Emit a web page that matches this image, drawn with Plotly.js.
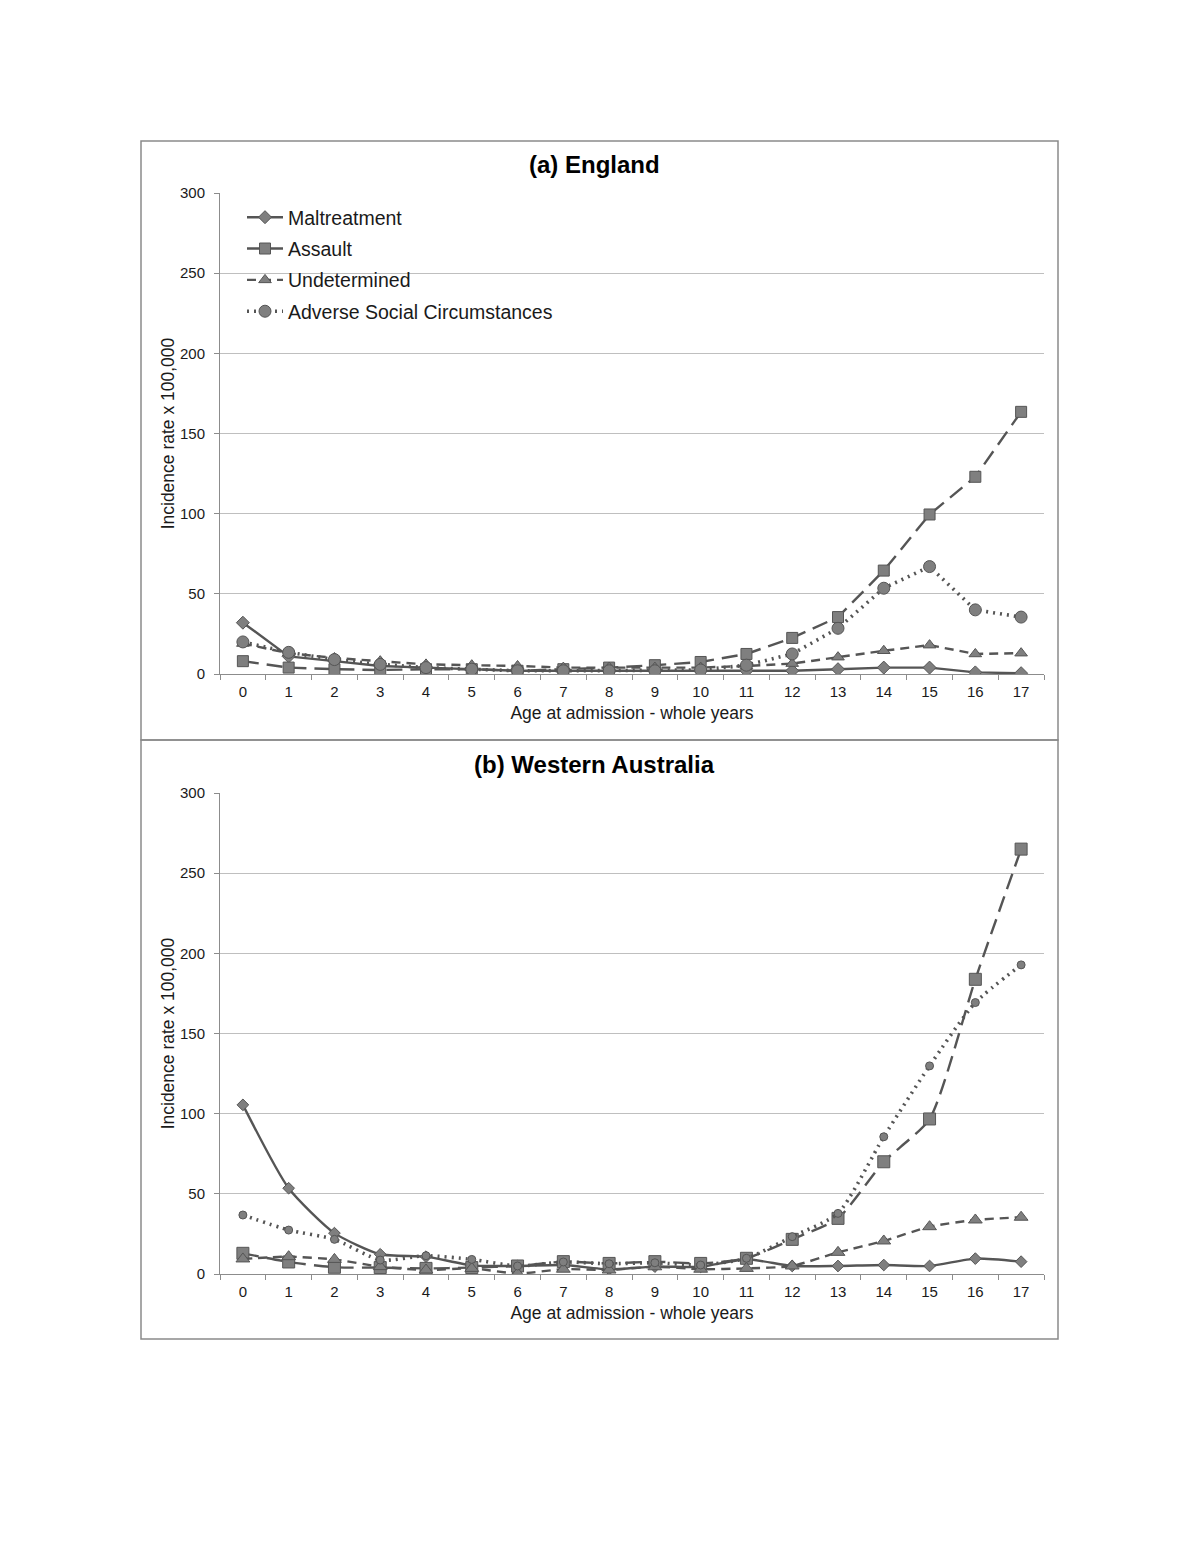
<!DOCTYPE html>
<html>
<head>
<meta charset="utf-8">
<script src="https://cdn.plot.ly/plotly-3.0.1.min.js"></script>
<style>html,body{margin:0;padding:0;background:#fff;}#chart{width:1200px;height:1553px;}</style>
</head>
<body>
<div id="chart"></div>
<script>
const ages = ["0","1","2","3","4","5","6","7","8","9","10","11","12","13","14","15","16","17"];
const seriesNames = ["Maltreatment","Assault","Undetermined","Adverse Social Circumstances"];

const engMaltreatment = [32, 11, 8, 5, 4, 3, 2, 2, 2, 2, 2, 2, 2, 3, 4, 4, 1, 0.5];
const engAssault      = [8, 4, 3, 2.5, 3, 3, 2, 3, 4, 5.5, 7.5, 12.5, 22.5, 35.5, 64.5, 99.5, 123, 163.5];
const engUndetermined = [19, 13, 10, 8, 6, 5.5, 5, 4, 4, 4, 4, 5, 6.5, 10.5, 14.5, 18, 12.5, 13];
const engAdverse      = [20, 13.5, 9, 6, 4, 3, 2, 2, 2, 2, 2.5, 5.5, 12.5, 28.5, 53.5, 67, 40, 35.5];

const waMaltreatment = [105.5, 53.5, 25.5, 12.3, 10.8, 5.4, 5, 5.6, 2.9, 4.6, 4.5, 9.2, 5, 5, 5.6, 5, 9.6, 7.7];
const waAssault      = [12.9, 7.5, 4.2, 4, 3.5, 4, 5, 7.7, 6.6, 7.7, 6.6, 9.8, 21.6, 34.7, 70, 96.7, 183.8, 265];
const waUndetermined = [9.4, 10.8, 9.1, 4.6, 2.5, 3.5, 0.3, 3, 2.5, 4.5, 3, 3.5, 5, 13.5, 20.6, 29.5, 33.7, 35.4];
const waAdverse      = [36.8, 27.4, 21.6, 8.7, 11.4, 9.1, 5, 7.5, 6.4, 7, 5.6, 9.8, 23.3, 37.8, 85.6, 129.8, 169.3, 192.8];

const LINE = '#555555', FILL = '#7f7f7f', EDGE = '#555555';
const styles = [
  {dash:'solid', sym:'diamond', sizeE:10, sizeW:9, w:2.4},
  {dash:'16px,8px', sym:'square', sizeE:11, sizeW:12, w:2.4},
  {dash:'9px,6px', sym:'triangle-up', sizeE:11, sizeW:12, w:2.4},
  {dash:'2px,5px', sym:'circle', sizeE:12, sizeW:8, w:3.6}
];
const eng = [engMaltreatment, engAssault, engUndetermined, engAdverse];
const wa = [waMaltreatment, waAssault, waUndetermined, waAdverse];

const traces = [];
eng.forEach((ys, i) => {
  const s = styles[i];
  traces.push({x: ages, y: ys, type:'scatter', mode:'lines+markers', name: seriesNames[i],
    xaxis:'x', yaxis:'y', showlegend:true, legendgroup:'g'+i,
    line:{color:LINE, width:s.w, dash:s.dash},
    marker:{symbol:s.sym, size:s.sizeE, color:FILL, line:{color:EDGE, width:1}}});
});
wa.forEach((ys, i) => {
  const s = styles[i];
  traces.push({x: ages, y: ys, type:'scatter', mode:'lines+markers', name: seriesNames[i],
    xaxis:'x2', yaxis:'y2', showlegend:false, legendgroup:'w'+i,
    line:{color:LINE, width:s.w, dash:s.dash, shape:'spline', smoothing:0.6},
    marker:{symbol:s.sym, size:s.sizeW, color:FILL, line:{color:EDGE, width:1}}});
});

const FAM = 'Liberation Sans, Arial, sans-serif';
const font = {family:FAM, color:'#1a1a1a'};
const W = 1200, H = 1553;
const px = v => v / W, py = v => 1 - v / H;

function xax(anchor) {
  return {domain:[px(220), px(1044)], anchor: anchor, type:'category', range:[-0.5,17.5],
    showgrid:false, showline:true, linecolor:'#8c8c8c', linewidth:1,
    ticks:'outside', tickson:'boundaries', ticklen:5, tickcolor:'#8c8c8c',
    ticklabelstandoff:4,
    tickfont:{family:FAM, size:15, color:'#1a1a1a'},
    title:{text:'Age at admission - whole years', font:{family:FAM, size:17.5, color:'#1a1a1a'}, standoff:7},
    zeroline:false, fixedrange:true};
}
function yax(anchor, dom) {
  return {domain: dom, anchor: anchor, range:[0,300], dtick:50, tick0:0,
    showgrid:true, gridcolor:'#bfbfbf', gridwidth:1,
    showline:true, linecolor:'#8c8c8c', linewidth:1,
    ticks:'outside', ticklen:5, tickcolor:'#8c8c8c', ticklabelstandoff:6,
    tickfont:{family:FAM, size:15, color:'#1a1a1a'},
    title:{text:'Incidence rate x 100,000', font:{family:FAM, size:17.5, color:'#1a1a1a'}, standoff:0},
    zeroline:false, fixedrange:true};
}

const layout = {
  width: W, height: H, margin:{l:0, r:0, t:0, b:0},
  paper_bgcolor:'#ffffff', plot_bgcolor:'#ffffff',
  font: font, showlegend:true,
  xaxis: xax('y'), yaxis: yax('x', [py(674), py(193)]),
  xaxis2: xax('y2'), yaxis2: yax('x2', [py(1274), py(793)]),
  legend:{x: px(242), y: py(198), xanchor:'left', yanchor:'top', bgcolor:'rgba(0,0,0,0)',
    font:{family:FAM, size:19.5, color:'#1a1a1a'}, tracegroupgap:3, itemwidth:36},
  shapes:[
    {type:'rect', xref:'paper', yref:'paper', x0:px(141), x1:px(1058), y0:py(740), y1:py(141), line:{color:'#8a8a8a', width:1.5}},
    {type:'rect', xref:'paper', yref:'paper', x0:px(141), x1:px(1058), y0:py(1339), y1:py(740), line:{color:'#8a8a8a', width:1.5}}
  ],
  annotations:[
    {text:'<b>(a) England</b>', xref:'paper', yref:'paper', x:px(594), y:py(165), xanchor:'center', yanchor:'middle', showarrow:false, font:{family:FAM, size:24, color:'#000'}},
    {text:'<b>(b) Western Australia</b>', xref:'paper', yref:'paper', x:px(594), y:py(764), xanchor:'center', yanchor:'middle', showarrow:false, font:{family:FAM, size:24, color:'#000'}}
  ]
};

Plotly.newPlot('chart', traces, layout, {displayModeBar:false, staticPlot:true});
</script>
</body>
</html>
